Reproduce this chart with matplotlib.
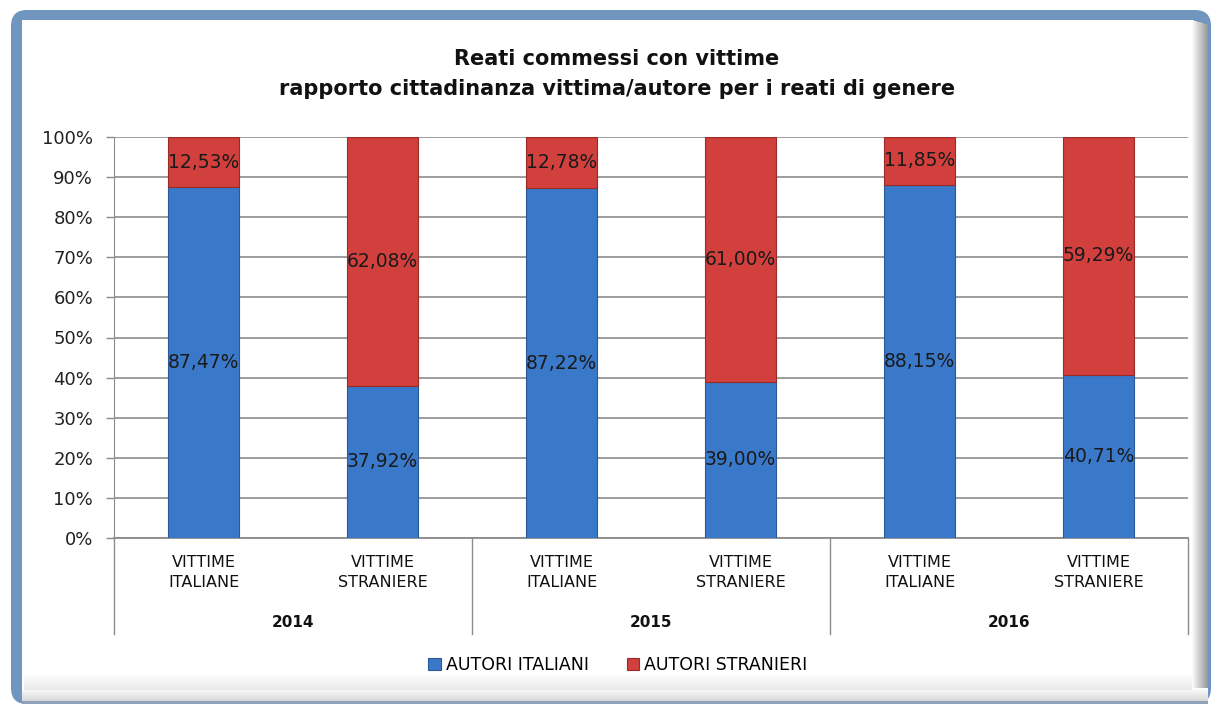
import matplotlib
matplotlib.use("Agg")
import matplotlib.pyplot as plt
from matplotlib.patches import FancyBboxPatch, Rectangle
from matplotlib.lines import Line2D
import numpy as np

years = ["2014", "2015", "2016"]
categories = ["VITTIME\nITALIANE", "VITTIME\nSTRANIERE"] * 3
autori_italiani = [87.47, 37.92, 87.22, 39.00, 88.15, 40.71]
autori_stranieri = [12.53, 62.08, 12.78, 61.00, 11.85, 59.29]
series_names = ["AUTORI ITALIANI", "AUTORI STRANIERI"]
title = "Reati commessi con vittime\nrapporto cittadinanza vittima/autore per i reati di genere"

W, H = 1213, 706
fig = plt.figure(figsize=(W / 100, H / 100), dpi=100)
fig.patch.set_facecolor("white")

# frame
bg = fig.add_axes([0, 0, 1, 1], zorder=-10)
bg.set_xlim(0, W)
bg.set_ylim(H, 0)
bg.axis("off")
bg.add_patch(FancyBboxPatch((11, 10), 1200, 694, boxstyle="round,pad=0,rounding_size=16",
                            facecolor="#7096c0", edgecolor="none"))
# gray shading right and bottom
for i in range(16):
    g = 0.98 - 0.025 * i
    bg.add_patch(Rectangle((1192 + i, 20 + i * 0.3), 1.2, 684 - i * 0.3,
                           facecolor=(g, g, g), edgecolor="none"))
for i in range(14):
    g = 0.99 - 0.012 * i
    bg.add_patch(Rectangle((22, 688 + i), 1186, 1.2, facecolor=(g, g, g), edgecolor="none"))
bg.add_patch(Rectangle((22, 701), 1186, 3, facecolor="#8fa0b8", edgecolor="none"))
bg.add_patch(Rectangle((22, 20), 1170, 670, facecolor="white", edgecolor="none"))
for i in range(18):
    g = 1 - 0.005 * i
    bg.add_patch(Rectangle((24, 672 + i), 1168, 1.2, facecolor=(g, g, g), edgecolor="none"))

left, right, top, bottom = 114, 1188, 137, 538
ax = fig.add_axes([left / W, 1 - bottom / H, (right - left) / W, (bottom - top) / H])
ax.set_facecolor("none")

x = np.arange(len(categories)) + 0.5
bw = 0.40
blue = "#3a79c9"
red = "#d1403d"
ax.bar(x, autori_italiani, width=bw, color=blue, edgecolor="#2a5a98", linewidth=0.8,
       label=series_names[0], zorder=3)
ax.bar(x, autori_stranieri, width=bw, bottom=autori_italiani, color=red, edgecolor="#9a2a28",
       linewidth=0.8, label=series_names[1], zorder=3)

def fmt(v):
    return f"{v:.2f}%".replace(".", ",")

for xi, a, s in zip(x, autori_italiani, autori_stranieri):
    ax.text(xi, a / 2, fmt(a), ha="center", va="center", fontsize=13.5, color="#1a1a1a", zorder=5)
    ax.text(xi, a + s / 2, fmt(s), ha="center", va="center", fontsize=13.5, color="#1a1a1a", zorder=5)

ax.set_xlim(0, 6)
ax.set_ylim(0, 100)
ax.set_yticks(np.arange(0, 101, 10))
ax.set_yticklabels([f"{v}%" for v in range(0, 101, 10)], fontsize=13, color="#222222")
ax.yaxis.grid(True, color="#8c8c8c", linewidth=1.2, zorder=0)
ax.tick_params(axis="y", length=6, color="#8c8c8c", width=1, pad=9)
ax.set_xticks(x)
ax.set_xticklabels(categories, fontsize=11.5, color="#111111", linespacing=1.45)
ax.tick_params(axis="x", length=0, pad=12)
for sp in ["top", "right"]:
    ax.spines[sp].set_visible(False)
ax.spines["left"].set_color("#8c8c8c")
ax.spines["bottom"].set_color("#8c8c8c")
ax.spines["bottom"].set_linewidth(1.3)

# group separators and year labels
for k in range(4):
    xs = k * 2
    ax.add_line(Line2D([xs, xs], [0, -24], transform=ax.transData, color="#8c8c8c",
                       linewidth=1, clip_on=False))
for k, yr in enumerate(years):
    ax.text(2 * k + 1, -21, yr, ha="center", va="center", fontsize=11,
            fontweight="bold", color="#111111", clip_on=False)

fig.text(617 / W, 1 - 74 / H, title, ha="center", va="center",
         fontsize=15, fontweight="bold", linespacing=1.6, color="#111111")

leg = fig.legend(loc="center", bbox_to_anchor=(618 / W, 1 - 665 / H), ncol=2, frameon=False,
                 fontsize=12.5, handlelength=0.7, handleheight=0.7, columnspacing=2.2,
                 handletextpad=0.3)

fig.savefig("out.png", dpi=100)
